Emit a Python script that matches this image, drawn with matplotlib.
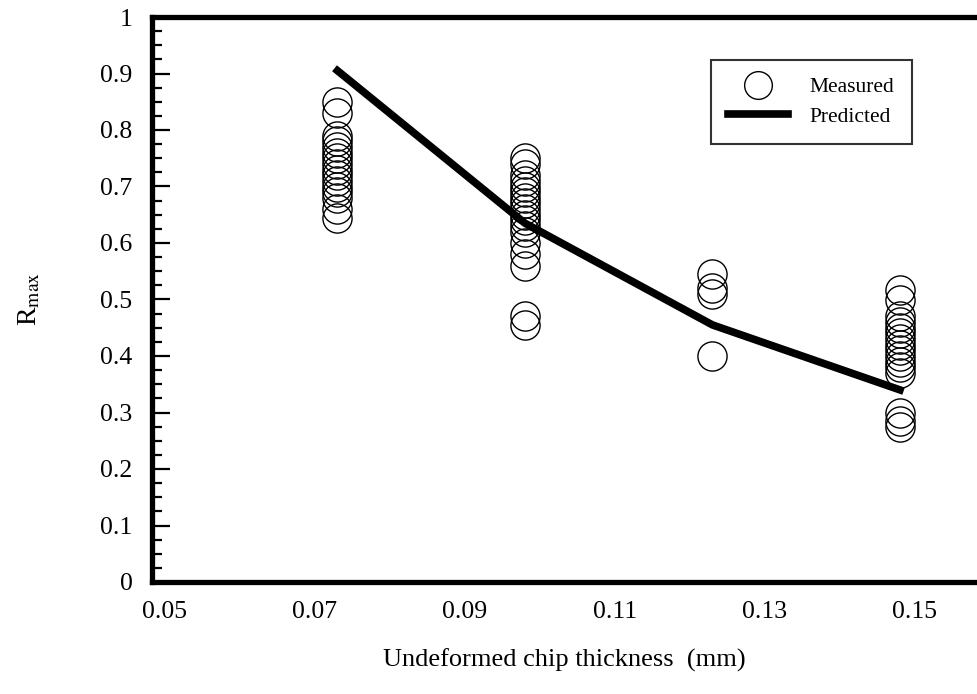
import matplotlib
matplotlib.use('Agg')
import matplotlib.pyplot as plt
from matplotlib.ticker import MultipleLocator, FixedLocator, FuncFormatter

plt.rcParams['font.family'] = ['Liberation Serif', 'DejaVu Serif']
plt.rcParams['mathtext.fontset'] = 'stix'

h1 = 0.073
r1 = [0.85, 0.83, 0.79, 0.78, 0.77, 0.76, 0.75, 0.74, 0.73, 0.72,
      0.71, 0.70, 0.69, 0.68, 0.66, 0.645]
h2 = 0.098
r2 = [0.75, 0.74, 0.72, 0.71, 0.70, 0.69, 0.68, 0.67, 0.66, 0.65,
      0.64, 0.63, 0.62, 0.60, 0.58, 0.56, 0.47, 0.455]
h3 = 0.123
r3 = [0.545, 0.52, 0.51, 0.40]
h4 = 0.148
r4 = [0.517, 0.50, 0.47, 0.46, 0.45, 0.44, 0.43, 0.42, 0.41, 0.40,
      0.39, 0.38, 0.37, 0.30, 0.285, 0.275]

# model prediction
h_pred = [0.073, 0.098, 0.123, 0.148]
r_pred = [0.905, 0.635, 0.455, 0.34]

x_ticks = [0.05, 0.07, 0.09, 0.11, 0.13, 0.15]

xs = [h1] * len(r1) + [h2] * len(r2) + [h3] * len(r3) + [h4] * len(r4)
ys = r1 + r2 + r3 + r4

fig = plt.figure(figsize=(9.77, 6.94), dpi=100)
ax = fig.add_axes([152 / 977, 1 - 582 / 694, 825 / 977, 565 / 694])

ax.plot(xs, ys, 'o', ms=21, mfc='none', mec='black', mew=1.0, label='Measured')
ax.plot(h_pred, r_pred, '-', color='black', lw=5.5, label='Predicted')

ax.set_xlim(0.04827, 0.15827)
ax.set_ylim(0, 1)

ax.xaxis.set_major_locator(FixedLocator(x_ticks))
ax.xaxis.set_major_formatter(FuncFormatter(lambda v, p: '%.2f' % v))
ax.tick_params(axis='x', length=0, pad=14, labelsize=18.5)

ax.yaxis.set_major_locator(MultipleLocator(0.1))
ax.yaxis.set_minor_locator(MultipleLocator(0.025))
ax.yaxis.set_major_formatter(FuncFormatter(lambda v, p: '%g' % round(v, 2)))
ax.tick_params(axis='y', which='major', direction='in', length=13, width=1.6,
               pad=14, labelsize=18.5)
ax.tick_params(axis='y', which='minor', direction='in', length=7, width=1.6)

for s in ['top', 'bottom', 'left']:
    ax.spines[s].set_linewidth(3.8)
ax.spines['right'].set_visible(False)

ax.set_xlabel('Undeformed chip thickness  (mm)', fontsize=19, labelpad=18)
ax.set_ylabel(r'R$_{\mathrm{max}}$', fontsize=20, labelpad=42)

leg = ax.legend(loc='upper right', bbox_to_anchor=(0.921, 0.924),
                borderaxespad=0, fontsize=15.5,
                frameon=True, fancybox=False, edgecolor='black',
                handlelength=2.8, handletextpad=1.0, borderpad=0.8,
                labelspacing=0.45, markerscale=0.95)
leg.get_frame().set_linewidth(1.5)

fig.savefig('out.png', dpi=100)
